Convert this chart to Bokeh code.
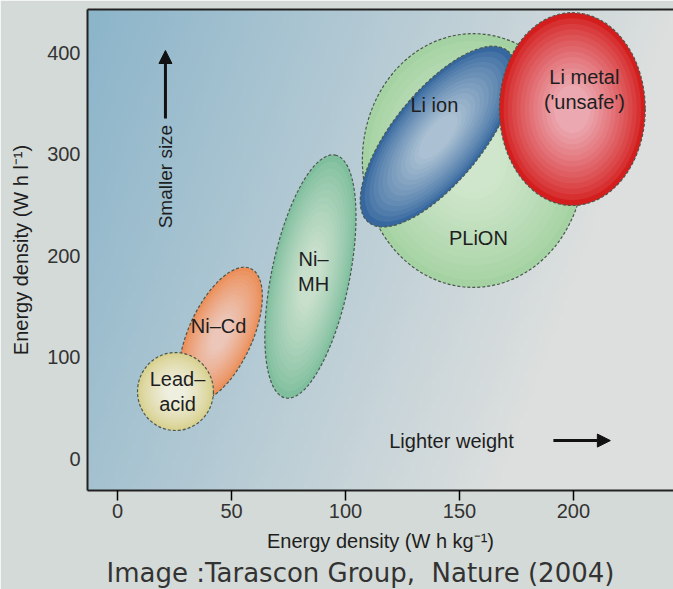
import numpy as np
from bokeh.plotting import figure
from bokeh.models import FixedTicker, LinearAxis, Range1d, Arrow, NormalHead, Title, ColumnDataSource
from bokeh.core.properties import value
from bokeh.embed import file_html
from bokeh.resources import INLINE

# ---------------- data ----------------
batteries = ["Ni–Cd", "Lead–\nacid", "Ni–\nMH", "PLiON", "Li ion", "Li metal\n('unsafe')"]
center_wh_kg = [45.2, 25.4, 84.6, 156.1, 140.6, 199.5]
center_wh_l = [122.2, 66.0, 179.3, 293.6, 317.2, 344.3]
span_wh_kg = [63.6, 33.3, 108.8, 97.4, 96.9, 64.0]
span_wh_l = [63.0, 76.8, 76.8, 250.0, 88.7, 190.1]
tilt_deg = [65.6, 0.0, 78.4, 0.0, 51.0, 0.0]
label_wh_kg = [44.3, 26.3, 86.0, 158.3, 139.0, 204.8]
label_wh_l = [131.0, 66.0, 184.0, 217.7, 348.8, 363.5]
edge_colors = ["#ec8e58", "#d8d08e", "#7fbf9e", "#a4d2a2", "#36689f", "#d41e1e"]
core_colors = ["#ecc6b8", "#efefe0", "#c8dfcc", "#d0e6cc", "#abc1d3", "#eba8b0"]

x_ticks = [0, 50, 100, 150, 200, 250]
y_ticks = [0, 100, 200, 300, 400]
x_lo, x_hi = -13.2, 243.9
y_lo, y_hi = -31.5, 442.4

arrow_up = dict(x=21.0, y0=335.0, y1=402.0, label="Smaller size", ly=277.8)
arrow_right = dict(y=17.7, x0=191.2, x1=216.2, label="Lighter weight", lx=146.5)

FONT = "Liberation Sans"
TXT = "#1e1e1e"

def hex2rgb(h):
    return tuple(int(h[i:i + 2], 16) for i in (1, 3, 5))

def mix(c1, c2, t):
    a, b = hex2rgb(c1), hex2rgb(c2)
    return "#%02x%02x%02x" % tuple(int(round(x + (y - x) * t)) for x, y in zip(a, b))

p = figure(width=673, height=589, output_backend="svg", toolbar_location=None,
           x_range=Range1d(x_lo, x_hi), y_range=Range1d(y_lo, y_hi),
           min_border_left=87, min_border_right=0, min_border_top=9, min_border_bottom=99,
           border_fill_color="#d4dad7", background_fill_color="#c4d6dc")
p.grid.visible = False
p.outline_line_color = None

# background gradient of the plot area
H, W = 60, 160
img = np.empty((H, W), dtype=np.uint32)
view = img.view(dtype=np.uint8).reshape((H, W, 4))
u = np.linspace(0, 1, W)[None, :]
v = np.linspace(0, 1, H)[:, None]
t = np.clip(u * 1.0 + (1 - v) * 0.3, 0, 1)
c1 = np.array(hex2rgb("#8cb5ca"))
c2 = np.array(hex2rgb("#dcdfde"))
for k in range(3):
    view[:, :, k] = (c1[k] + (c2[k] - c1[k]) * t).astype(np.uint8)
view[:, :, 3] = 255
p.image_rgba(image=[img], x=x_lo, y=y_lo, dw=x_hi - x_lo, dh=y_hi - y_lo)

# ellipses with a faked radial shading
scales = np.linspace(1.0, 0.25, 14)
for i in range(len(batteries)):
    for j, s in enumerate(scales):
        tt = ((1.0 - s) / 0.75) ** 0.8
        col = mix(edge_colors[i], core_colors[i], tt)
        kw = dict(line_color="#4a584e", line_width=1.2, line_dash="3 2") if j == 0 else dict(line_color=None)
        p.ellipse(x=center_wh_kg[i], y=center_wh_l[i], width=span_wh_kg[i] * s,
                  height=span_wh_l[i] * s, angle=np.radians(tilt_deg[i]),
                  fill_color=col, fill_alpha=1.0, **kw)

src = ColumnDataSource(dict(x=label_wh_kg, y=label_wh_l, text=batteries))
p.text(x="x", y="y", text="text", source=src, text_font=value(FONT), text_font_size="20px",
       text_color=TXT, text_align="center", text_baseline="middle", text_line_height=1.15)

# direction arrows
p.add_layout(Arrow(end=NormalHead(size=13, fill_color="#111", line_color="#111"),
                   x_start=arrow_up["x"], y_start=arrow_up["y0"],
                   x_end=arrow_up["x"], y_end=arrow_up["y1"], line_width=3, line_color="#111"))
p.add_layout(Arrow(end=NormalHead(size=13, fill_color="#111", line_color="#111"),
                   x_start=arrow_right["x0"], y_start=arrow_right["y"],
                   x_end=arrow_right["x1"], y_end=arrow_right["y"], line_width=3, line_color="#111"))
p.text(x=[arrow_up["x"]], y=[arrow_up["ly"]], text=[arrow_up["label"]], angle=np.pi / 2,
       text_font=value(FONT), text_font_size="19px", text_color=TXT,
       text_align="center", text_baseline="middle")
p.text(x=[arrow_right["lx"]], y=[arrow_right["y"]], text=[arrow_right["label"]],
       text_font=value(FONT), text_font_size="20px", text_color=TXT,
       text_align="center", text_baseline="middle")

# axes
for ax in (p.xaxis[0], p.yaxis[0]):
    ax.axis_line_width = 2
    ax.axis_line_color = "#222"
    ax.major_label_text_font = FONT
    ax.major_label_text_font_size = "20px"
    ax.major_label_text_color = "#333"
    ax.minor_tick_line_color = None
    ax.axis_label_text_font = FONT
    ax.axis_label_text_font_style = "normal"
    ax.axis_label_text_color = TXT
p.xaxis[0].ticker = FixedTicker(ticks=x_ticks)
p.yaxis[0].ticker = FixedTicker(ticks=y_ticks)
p.xaxis[0].major_tick_out = 10
p.xaxis[0].major_tick_in = 0
p.xaxis[0].major_tick_line_width = 1.5
p.xaxis[0].major_label_standoff = 3
p.yaxis[0].major_tick_out = 0
p.yaxis[0].major_tick_in = 0
p.yaxis[0].major_label_standoff = 7
p.yaxis[0].axis_label = "Energy density (W h l⁻¹)"
p.yaxis[0].axis_label_text_font_size = "20px"
p.yaxis[0].axis_label_standoff = 12

top_axis = LinearAxis(ticker=FixedTicker(ticks=[]), major_tick_in=0, major_tick_out=0,
                      minor_tick_in=0, minor_tick_out=0, major_label_standoff=0,
                      axis_line_width=2, axis_line_color="#222")
p.add_layout(top_axis, "above")

p.add_layout(Title(text="Energy density (W h kg⁻¹)", align="center", offset=20,
                   text_font=FONT, text_font_size="20px", text_font_style="normal",
                   text_color=TXT, standoff=15), "below")
p.add_layout(Title(text="Image :Tarascon Group,\u00a0 Nature (2004)", align="left", offset=19,
                   text_font="DejaVu Sans", text_font_size="26px", text_font_style="normal",
                   text_color="#333", standoff=-7), "below")

html = file_html(p, INLINE)
html = html.replace("<body>", '<body style="background:#d4dad7">', 1)
open("out.html", "w").write(html)
